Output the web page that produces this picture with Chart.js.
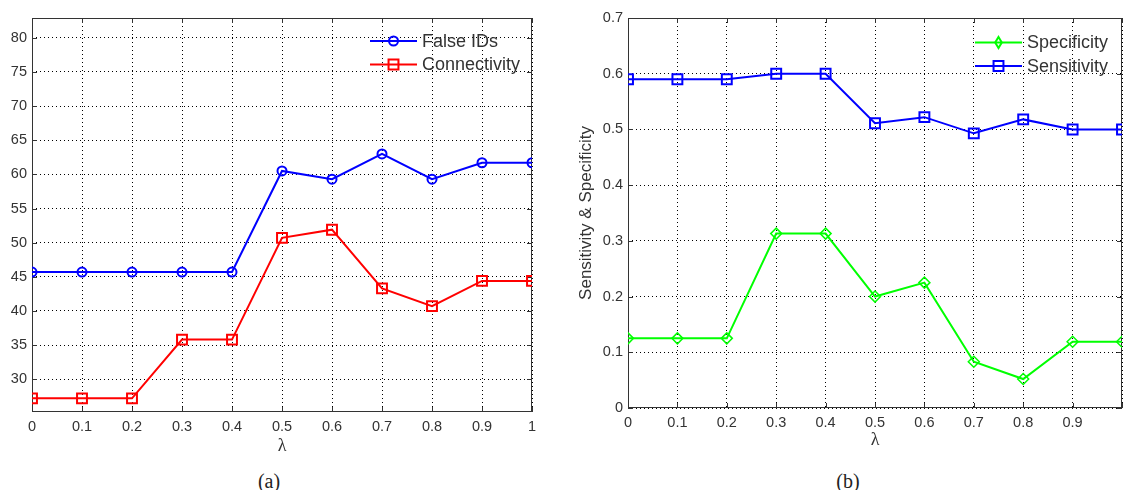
<!DOCTYPE html>
<html>
<head>
<meta charset="utf-8">
<script src="https://cdn.jsdelivr.net/npm/chart.js@4/dist/chart.umd.min.js"></script>
<style>
body { margin: 0; background: #fff; width: 1131px; height: 490px; position: relative; overflow: hidden; }
#chartA { position: absolute; left: 0; top: 0; }
#chartB { position: absolute; left: 560px; top: 0; }
.cap { position: absolute; top: 470px; width: 60px; text-align: center; line-height: 20px; font: 20px "Liberation Serif", serif; color: #222; }
</style>
</head>
<body>
<canvas id="chartA" width="560" height="460"></canvas>
<canvas id="chartB" width="571" height="460"></canvas>
<div class="cap" style="left:239px">(a)</div>
<div class="cap" style="left:818px">(b)</div>
<script>
// values
var lambda = [0, 0.1, 0.2, 0.3, 0.4, 0.5, 0.6, 0.7, 0.8, 0.9, 1];
var falseIDs = [45.7, 45.7, 45.7, 45.7, 45.7, 60.5, 59.3, 63.0, 59.3, 61.7, 61.7];
var connectivity = [27.2, 27.2, 27.2, 35.8, 35.8, 50.7, 51.9, 43.3, 40.7, 44.4, 44.4];
var specificity = [0.125, 0.125, 0.125, 0.313, 0.313, 0.2, 0.225, 0.083, 0.052, 0.119, 0.119];
var sensitivity = [0.59, 0.59, 0.59, 0.6, 0.6, 0.511, 0.522, 0.493, 0.518, 0.5, 0.5];

var xTickLabelsA = ["0", "0.1", "0.2", "0.3", "0.4", "0.5", "0.6", "0.7", "0.8", "0.9", "1"];
var xTickLabelsB = ["0", "0.1", "0.2", "0.3", "0.4", "0.5", "0.6", "0.7", "0.8", "0.9", ""];
var yTicksA = [30, 35, 40, 45, 50, 55, 60, 65, 70, 75, 80];
var yTickLabelsA = ["30", "35", "40", "45", "50", "55", "60", "65", "70", "75", "80"];
var yTicksB = [0, 0.1, 0.2, 0.3, 0.4, 0.5, 0.6, 0.7];
var yTickLabelsB = ["0", "0.1", "0.2", "0.3", "0.4", "0.5", "0.6", "0.7"];

var sans = "'Liberation Sans', Arial, sans-serif";
var serif = "'Liberation Serif', serif";

function points(ys) {
    return lambda.map(function (x, i) { return {x: x, y: ys[i]}; });
}

// matlab style box with inward ticks
var framePlugin = {
    id: "frame",
    beforeDatasetsDraw: function (chart) {
        var a = chart.chartArea, ctx = chart.ctx;
        var xs = chart.scales.x, ys = chart.scales.y;
        ctx.save();
        ctx.strokeStyle = "#333";
        ctx.lineWidth = 1;
        ctx.strokeRect(a.left + 0.5, a.top + 0.5, a.right - a.left - 1, a.bottom - a.top - 1);
        ctx.beginPath();
        xs.ticks.forEach(function (t) {
            var px = Math.round(xs.getPixelForValue(t.value)) + 0.5;
            ctx.moveTo(px, a.bottom); ctx.lineTo(px, a.bottom - 5);
            ctx.moveTo(px, a.top); ctx.lineTo(px, a.top + 5);
        });
        ys.ticks.forEach(function (t) {
            var py = Math.round(ys.getPixelForValue(t.value)) + 0.5;
            ctx.moveTo(a.left, py); ctx.lineTo(a.left + 5, py);
            ctx.moveTo(a.right, py); ctx.lineTo(a.right - 5, py);
        });
        ctx.stroke();
        ctx.restore();
    }
};

function marker(ctx, style, x, y, r) {
    ctx.beginPath();
    if (style === "circle") {
        ctx.arc(x, y, r, 0, Math.PI * 2);
    } else if (style === "rect") {
        var s = r * Math.SQRT1_2;
        ctx.rect(x - s, y - s, 2 * s, 2 * s);
    } else {
        ctx.moveTo(x, y - r); ctx.lineTo(x + r * 0.6, y);
        ctx.lineTo(x, y + r); ctx.lineTo(x - r * 0.6, y);
        ctx.closePath();
    }
    ctx.stroke();
}

// legend inside the plot, line + marker + text
var legendPlugin = {
    id: "matLegend",
    afterDraw: function (chart, args, opts) {
        var a = chart.chartArea, ctx = chart.ctx;
        ctx.save();
        chart.data.datasets.forEach(function (ds, i) {
            var y = a.top + opts.y0 + i * opts.dy;
            var x0 = a.right + opts.start;
            ctx.strokeStyle = ds.borderColor;
            ctx.lineWidth = ds.borderWidth;
            ctx.beginPath();
            ctx.moveTo(x0, y); ctx.lineTo(x0 + opts.len, y);
            ctx.stroke();
            marker(ctx, ds.pointStyle, x0 + opts.len / 2, y, ds.pointRadius);
            ctx.fillStyle = "#333";
            ctx.font = "18px " + sans;
            ctx.textBaseline = "middle";
            ctx.fillText(ds.label, x0 + opts.len + 5, y + 1);
        });
        ctx.restore();
    }
};

function makeOptions(yMin, yMax, yTicks, yLabels, xLabels, yWidth, padRight, xHeight, titlePad, yTitle, legendOpts) {
    return {
        responsive: false,
        animation: false,
        layout: {padding: {top: 18, right: padRight, left: 0, bottom: 0}},
        plugins: {
            legend: {display: false},
            tooltip: {enabled: false},
            matLegend: legendOpts
        },
        scales: {
            x: {
                type: "linear", min: 0, max: 1,
                afterBuildTicks: function (s) { s.ticks = lambda.map(function (v) { return {value: v}; }); },
                afterFit: function (s) { s.height = xHeight; },
                grid: {color: "#000", lineWidth: 1, drawTicks: false},
                border: {display: false, dash: [1, 3]},
                ticks: {
                    padding: 6, color: "#333", font: {family: sans, size: 14.5},
                    maxRotation: 0, autoSkip: false,
                    callback: function (v, i) { return xLabels[i]; }
                },
                title: {display: true, text: "λ", color: "#333", font: {family: serif, size: 18}, padding: {top: 0, bottom: titlePad}}
            },
            y: {
                type: "linear", min: yMin, max: yMax,
                afterBuildTicks: function (s) { s.ticks = yTicks.map(function (v) { return {value: v}; }); },
                afterFit: function (s) { s.width = yWidth; },
                grid: {color: "#000", lineWidth: 1, drawTicks: false},
                border: {display: false, dash: [1, 3]},
                ticks: {
                    padding: 5, color: "#333", font: {family: sans, size: 14.5},
                    autoSkip: false,
                    callback: function (v, i) { return yLabels[i]; }
                },
                title: {display: !!yTitle, text: yTitle, color: "#333", font: {family: sans, size: 17}, padding: {top: 16.5, bottom: 0}}
            }
        }
    };
}

new Chart("chartA", {
    type: "line",
    data: {
        datasets: [{
            label: "False IDs",
            data: points(falseIDs),
            borderColor: "#0000ff", borderWidth: 2,
            pointStyle: "circle", pointRadius: 4.5,
            pointBorderColor: "#0000ff", pointBackgroundColor: "rgba(0,0,0,0)", pointBorderWidth: 2,
            tension: 0
        }, {
            label: "Connectivity",
            data: points(connectivity),
            borderColor: "#ff0000", borderWidth: 2,
            pointStyle: "rect", pointRadius: 7,
            pointBorderColor: "#ff0000", pointBackgroundColor: "rgba(0,0,0,0)", pointBorderWidth: 2,
            tension: 0
        }]
    },
    options: makeOptions(25.2, 82.9, yTicksA, yTickLabelsA, xTickLabelsA, 32, 28, 48, 3, "",
        {start: -162, len: 47, y0: 23, dy: 23.5}),
    plugins: [framePlugin, legendPlugin]
});

new Chart("chartB", {
    type: "line",
    data: {
        datasets: [{
            label: "Specificity",
            data: points(specificity),
            borderColor: "#00ff00", borderWidth: 2,
            pointStyle: "rectRot", pointRadius: 5.5,
            pointBorderColor: "#00ff00", pointBackgroundColor: "rgba(0,0,0,0)", pointBorderWidth: 1.5,
            tension: 0
        }, {
            label: "Sensitivity",
            data: points(sensitivity),
            borderColor: "#0000ff", borderWidth: 2,
            pointStyle: "rect", pointRadius: 7,
            pointBorderColor: "#0000ff", pointBackgroundColor: "rgba(0,0,0,0)", pointBorderWidth: 2,
            tension: 0
        }]
    },
    options: makeOptions(0, 0.7, yTicksB, yTickLabelsB, xTickLabelsB, 68, 1, 52, 9, "Sensitivity & Specificity",
        {start: -147, len: 47, y0: 24.5, dy: 23.5}),
    plugins: [framePlugin, legendPlugin]
});
</script>
</body>
</html>
